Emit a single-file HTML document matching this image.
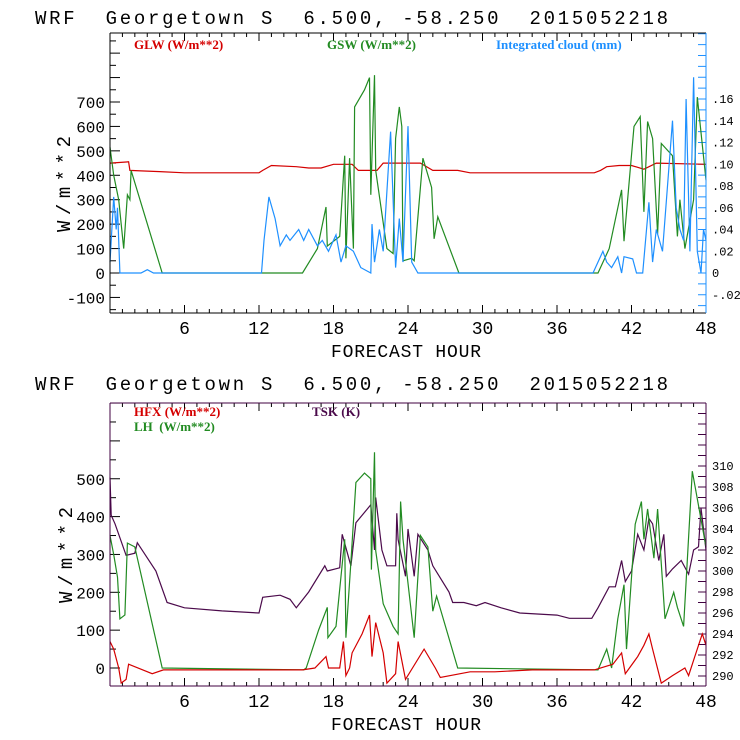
<!DOCTYPE html>
<html><head><meta charset="utf-8"><style>
body{margin:0;background:#fff;}
svg{display:block;font-family:"Liberation Mono",monospace;}
</style></head><body>
<svg id="chart" width="740" height="740" viewBox="0 0 740 740"></svg>
<script>
// ---- Top panel data ----
const glwHours = [0,1.5,1.6,2.5,4,6,12,12.3,13,15,16,17,18,19.5,20,21.5,22,25,26,28,29,39,39.5,40,41,42,43,44,48];
const glwValues = [450,455,420,418,415,410,410,420,440,435,430,430,445,445,420,420,450,450,420,420,410,410,420,435,440,440,425,450,445];
const gswHours = [0,0.3,0.7,1.1,1.4,1.6,1.7,4.2,15.5,16.7,17.4,17.5,18.5,18.9,19.0,19.3,19.6,19.7,20.5,20.9,21.0,21.3,21.4,22.3,22.8,23.0,23.3,23.5,23.6,24.3,24.5,25.2,25.9,26.1,26.4,28.1,39.3,40.2,41.2,41.4,42.2,42.7,43.0,43.3,43.7,44.1,44.4,45.3,45.7,45.9,46.3,47.0,47.3,48];
const gswValues = [515,400,300,100,320,300,420,0,0,100,270,110,150,480,60,470,100,680,750,800,320,810,420,100,80,550,680,600,50,60,50,470,350,140,230,0,0,100,340,130,600,640,250,620,550,160,530,480,150,300,100,300,720,380];
const cldHours = [0,0.3,0.5,0.6,0.8,1.4,2.5,3,3.5,12.2,12.4,12.8,13.3,13.7,14.2,14.5,15.2,15.6,16,16.7,17.1,17.6,18.2,18.6,19,19.6,20.2,21,21.1,21.3,21.7,22,22.6,23,23.3,23.6,24.0,24.3,24.8,38.9,39.7,40,40.4,40.9,41.2,41.4,42.1,42.4,42.9,43.4,43.7,44.0,44.5,45.3,45.6,45.9,46.2,46.4,46.7,47.0,47.3,47.6,47.8,48];
const cldValues = [0.01,0.07,0.04,0.06,0,0,0,0.003,0,0,0.03,0.07,0.05,0.025,0.035,0.03,0.04,0.03,0.04,0.025,0.03,0.02,0.035,0.01,0.025,0.02,0.005,0,0.045,0.01,0.04,0.02,0.13,0.005,0.05,0.01,0.135,0.01,0,0,0.02,0.01,0.005,0.015,0,0.015,0.013,0,0,0.065,0.01,0.04,0.02,0.14,0.06,0.04,0.03,0.16,0.02,0.18,0.02,0,0.04,0.03];
// ---- Bottom panel data ----
const tskHours = [0,0.1,0.4,1.3,2.0,2.2,3.7,4.6,6,9,12,12.3,13.7,14.5,15,16,17.3,17.5,18.5,18.7,19.4,19.8,21.0,21.3,21.4,21.9,22.3,23.0,23.1,23.2,23.8,24.0,24.5,24.8,25.6,26.0,27.3,27.6,28.5,29.5,30.2,31.5,33,36,37,38.8,39.3,40.2,40.7,41.2,41.5,42,42.5,43,43.4,43.7,44.2,44.6,44.8,45.3,46,46.6,47,47.4,47.6,48];
const tskValues = [308.9,305.3,304.5,301.5,301.7,302.7,300,297,296.5,296.2,296,297.5,297.7,297.3,296.5,298,300.5,300,300.3,303.5,300.5,304.6,306.3,302,307,302,300.5,300.5,305.5,303,299.5,304,299.5,303.5,302,300.5,298,297,297,296.7,297,296.5,296,295.8,295.5,295.5,296.5,298.5,298.5,301,299,300,303.5,302,305,304.5,301,303.5,299.5,300.2,301,299.7,302,302.3,306,302];
const lhHours = [0,0.3,0.6,0.8,1.2,1.4,2,4.2,15.6,15.8,16.8,17.5,17.55,18.2,18.9,19.0,19.4,19.8,20.5,21,21.05,21.3,21.4,22,22.8,23.2,23.4,23.6,24.5,25.0,25.6,26.0,26.3,28.0,39.3,40.0,40.4,40.9,41.4,41.6,42.3,42.8,43.0,43.3,43.8,44.1,44.7,45.4,45.7,46.2,46.9,48];
const lhValues = [350,300,240,130,140,330,320,0,-5,0,100,160,80,110,340,80,280,490,515,500,260,570,310,170,110,90,440,340,80,350,320,150,190,0,-5,50,0,130,220,50,380,440,340,420,290,420,130,200,160,110,520,320];
const hfxHours = [0,0.3,0.7,0.9,1.3,1.5,3.4,4.3,15.5,16.5,17.4,17.6,18.5,18.8,19.0,19.3,19.5,20.3,20.9,21.1,21.4,22,22.3,23.0,23.2,23.8,25.3,26.2,26.6,29,31,34,39,40.5,41.2,41.5,42.5,43,43.4,43.7,44.4,45.3,46.3,46.6,47.1,47.7,48];
const hfxValues = [70,50,0,-40,-30,10,-15,-5,-5,0,30,0,0,70,-20,0,40,90,140,30,120,40,-40,-15,70,-30,50,0,-25,-10,-10,-5,-5,10,40,-15,30,60,90,50,-40,-20,0,-20,30,90,60];
const xTicks = [6,12,18,24,30,36,42,48];
const topLeftTicks = [-100,0,100,200,300,400,500,600,700];
const topRightTicks = [-0.02,0,0.02,0.04,0.06,0.08,0.10,0.12,0.14,0.16];
const topRightLabels = ["-.02","0",".02",".04",".06",".08",".10",".12",".14",".16"];
const botLeftTicks = [0,100,200,300,400,500];
const botRightTicks = [290,292,294,296,298,300,302,304,306,308,310];

const NS="http://www.w3.org/2000/svg";
const svg=document.getElementById('chart');
function mk(tag,attrs,parent){const e=document.createElementNS(NS,tag);for(const k in attrs)e.setAttribute(k,attrs[k]);(parent||svg).appendChild(e);return e;}
const X0=110,X1=706;
function xs(h){return X0+(X1-X0)*h/48;}

function panel(o){
  const g=mk('g',{});
  
  
  const t=mk('text',{x:35,y:o.titleY,'font-size':19,fill:'#000',style:'white-space:pre',textLength:633,lengthAdjust:'spacing'},g);
  t.textContent="WRF  Georgetown S  6.500, -58.250  2015052218";
  
  
  for(let h=1;h<48;h++){
    const len=(h%6===0)?8:4;
    mk('line',{x1:xs(h),x2:xs(h),y1:o.bot,y2:o.bot-len,stroke:'#000'},g);
    mk('line',{x1:xs(h),x2:xs(h),y1:o.top,y2:o.top+len,stroke:'#000'},g);
  }
  xTicks.forEach(h=>{
    const tx=mk('text',{x:xs(h),y:o.bot+21,'font-size':18,'text-anchor':'middle',fill:'#000'},g);
    tx.textContent=h;
    
    
  });
  const xl=mk('text',{x:331,y:o.bot+44,'font-size':18,fill:'#000',style:'white-space:pre',textLength:150,lengthAdjust:'spacing'},g);
  xl.textContent="FORECAST HOUR";
  
  
  const yl=mk('text',{x:0,y:0,'font-size':19,'text-anchor':'middle',fill:'#000',textLength:96,lengthAdjust:'spacing',transform:`translate(${o.ylabX},${o.ylabY}) rotate(-90)`},g);
  yl.textContent="W/m**2";
  
  
  for(let v=o.lmin;v<=o.lmax;v+=o.lstep/2){
    const y=o.ly(v);if(y<o.top||y>o.bot)continue;
    const major=Math.abs(v%o.lstep)<1e-6;
    mk('line',{x1:X0,x2:X0+(major?10:6),y1:y,y2:y,stroke:'#000'},g);
  }
  o.lticks.forEach(v=>{
    const tx=mk('text',{x:X0-5,y:o.ly(v)+6,'font-size':16,'text-anchor':'end',fill:'#000'},g);
    tx.textContent=v;
    
    
  });
  for(let v=o.rmin;v<=o.rmax+1e-9;v+=o.rstep/2){
    const y=o.ry(v);if(y<o.top||y>o.bot)continue;
    mk('line',{x1:X1,x2:X1-8,y1:y,y2:y,stroke:o.rcol},g);
  }
  o.rticks.forEach((v,i)=>{
    const tx=mk('text',{x:X1+6,y:o.ry(v)+4,'font-size':12,fill:'#000'},g);
    tx.textContent=o.rlabels?o.rlabels[i]:v;
    
    
  });
  o.series.forEach(s=>{
    const pts=s.h.map((h,i)=>xs(h).toFixed(1)+','+s.y(s.v[i]).toFixed(1)).join(' ');
    const p=mk('polyline',{points:pts,fill:'none',stroke:s.c,'stroke-width':1.2},g);
    
    
  });
  o.legend.forEach(l=>{
    const tx=mk('text',{x:l.x,y:l.y,'font-size':13,fill:l.c,'font-family':'Liberation Serif, serif','font-weight':'bold',style:'white-space:pre'},g);
    tx.textContent=l.t;
    
    
  });
  mk('line',{x1:X0,x2:X1,y1:o.top,y2:o.top,stroke:o.fcol},g);
  mk('line',{x1:X0,x2:X1,y1:o.bot,y2:o.bot,stroke:o.fcol},g);
  mk('line',{x1:X0,x2:X0,y1:o.top,y2:o.bot,stroke:o.fcol},g);
  mk('line',{x1:X1,x2:X1,y1:o.top,y2:o.bot,stroke:o.rcol},g);
}
const tly=v=>273-v*0.2443;
const tr=v=>273-v*(273-99)/0.16;
panel({name:'radiation-panel',titleY:24,top:33,bot:313,ylabX:70,ylabY:184,
  ly:tly,lmin:-150,lmax:1000,lstep:100,lticks:topLeftTicks,
  ry:tr,rmin:-0.04,rmax:0.22,rstep:0.02,rticks:topRightTicks,rlabels:topRightLabels,rcol:'#1e90ff',fcol:'#000',
  series:[{name:'glw-line',h:glwHours,v:glwValues,c:'#d40000',y:tly},
          {name:'gsw-line',h:gswHours,v:gswValues,c:'#228b22',y:tly},
          {name:'cloud-line',h:cldHours,v:cldValues,c:'#1e90ff',y:tr}],
  legend:[{x:134,y:49,t:'GLW (W/m**2)',c:'#d40000'},{x:327,y:49,t:'GSW (W/m**2)',c:'#228b22'},{x:496,y:49,t:'Integrated cloud (mm)',c:'#1e90ff'}]});
const bly=v=>668-v*0.3785;
const br=v=>676-(v-290)*10.5;
panel({name:'flux-panel',titleY:390,top:403,bot:686,ylabX:72,ylabY:555,
  ly:bly,lmin:-50,lmax:750,lstep:100,lticks:botLeftTicks,
  ry:br,rmin:288,rmax:322,rstep:2,rticks:botRightTicks,rcol:'#400040',fcol:'#400040',
  series:[{name:'tsk-line',h:tskHours,v:tskValues,c:'#4b0a4b',y:br},
          {name:'lh-line',h:lhHours,v:lhValues,c:'#228b22',y:bly},
          {name:'hfx-line',h:hfxHours,v:hfxValues,c:'#d40000',y:bly}],
  legend:[{x:134,y:416,t:'HFX (W/m**2)',c:'#d40000'},{x:134,y:431,t:'LH  (W/m**2)',c:'#228b22'},{x:312,y:416,t:'TSK (K)',c:'#4b0a4b'}]});
</script>
</body></html>
